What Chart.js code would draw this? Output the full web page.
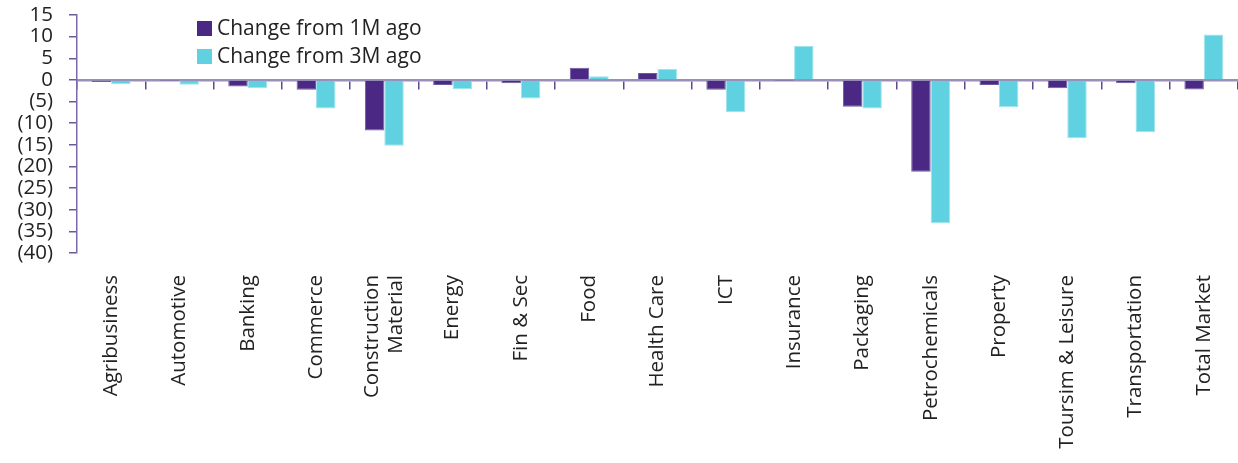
<!DOCTYPE html>
<html>
<head>
<meta charset="utf-8">
<script src="https://cdn.jsdelivr.net/npm/chart.js@4"></script>
<style>
  body { margin: 0; background: #fff; }
  #wrap { position: relative; width: 1238px; height: 463px; }
  #legend { position: absolute; left: 197px; top: 13px; font-family: 'Open Sans', sans-serif; font-size: 21px; color: #222; }
  #legend div { height: 28px; line-height: 28px; white-space: nowrap; }
  #legend span { display: inline-block; width: 15px; height: 15px; margin-right: 5px; vertical-align: -1px; }
</style>
</head>
<body>
<div id="wrap">
  <canvas id="c" width="1238" height="463"></canvas>
  <div id="legend"></div>
</div>
<script>
var sectors = ['Agribusiness', 'Automotive', 'Banking', 'Commerce', ['Construction', 'Material'], 'Energy',
  'Fin & Sec', 'Food', 'Health Care', 'ICT', 'Insurance', 'Packaging', 'Petrochemicals', 'Property',
  'Toursim & Leisure', 'Transportation', 'Total Market'];
var change1M = [-0.5, -0.1, -1.5, -2.3, -11.7, -1.2, -0.8, 2.8, 1.6, -2.3, -0.1, -6.2, -21.2, -1.2, -1.9, -0.8, -2.2];
var change3M = [-1.0, -1.1, -1.9, -6.6, -15.2, -2.1, -4.3, 0.85, 2.5, -7.5, 7.9, -6.6, -33.1, -6.3, -13.5, -12.1, 10.5];
var seriesNames = ['Change from 1M ago', 'Change from 3M ago'];
var colors = ['#4b2884', '#5fd1e0'];
var edges = ['#6d5a9e', '#9fe3ec'];

var font = { family: "'Open Sans', sans-serif", size: 20.5 };

// center two-line rotated labels on their category
var centerMultiLine = {
  id: 'centerMultiLine',
  beforeDraw: function (chart) {
    var sc = chart.scales.x;
    var items = sc.getLabelItems();
    items.forEach(function (it) {
      if (Array.isArray(it.label) && !it._shifted) {
        it.options.translation[0] -= (it.label.length - 1) * it.font.lineHeight / 2;
        it._shifted = true;
      }
    });
  }
};

new Chart(document.getElementById('c').getContext('2d'), {
  type: 'bar',
  data: {
    labels: sectors,
    datasets: [
      { label: seriesNames[0], data: change1M, backgroundColor: colors[0], borderColor: edges[0], borderWidth: 1 },
      { label: seriesNames[1], data: change3M, backgroundColor: colors[1], borderColor: edges[1], borderWidth: 1 }
    ]
  },
  plugins: [centerMultiLine],
  options: {
    responsive: false,
    animation: false,
    layout: { padding: { top: 15, right: 0, left: 0, bottom: 0 } },
    datasets: { bar: { categoryPercentage: 0.57, barPercentage: 1.0 } },
    plugins: { legend: { display: false }, tooltip: { enabled: false } },
    scales: {
      x: {
        position: 'bottom',
        offset: true,
        grid: { display: false, offset: true },
        border: { display: false },
        ticks: { font: font, color: '#222', minRotation: 90, maxRotation: 90, autoSkip: false, padding: 14 },
        afterFit: function (s) { s.height = 210; s.paddingLeft = 0; s.paddingRight = 0; }
      },
      x0: {
        type: 'category',
        labels: sectors,
        position: { y: 0 },
        offset: true,
        grid: { offset: true, drawOnChartArea: false, drawTicks: true, tickLength: 8, color: '#5c4a8f', lineWidth: 1.5 },
        border: { display: true, color: '#9a8fb8', width: 2.5 },
        ticks: { display: false }
      },
      y: {
        min: -40,
        max: 15,
        grid: { drawOnChartArea: false, drawTicks: true, tickLength: 8, color: '#6a5a9c', lineWidth: 1.5 },
        border: { display: true, color: '#7a6aa8', width: 1.5 },
        ticks: {
          stepSize: 5,
          autoSkip: false,
          font: font,
          color: '#222',
          padding: 16,
          callback: function (v) { return v < 0 ? '(' + (-v) + ')' : v; }
        },
        afterFit: function (s) { s.width = 77; s.paddingTop = 0; s.paddingBottom = 0; }
      }
    }
  }
});

var lg = document.getElementById('legend');
seriesNames.forEach(function (name, i) {
  var row = document.createElement('div');
  row.innerHTML = '<span style="background:' + colors[i] + '"></span>' + name;
  lg.appendChild(row);
});
</script>
</body>
</html>
